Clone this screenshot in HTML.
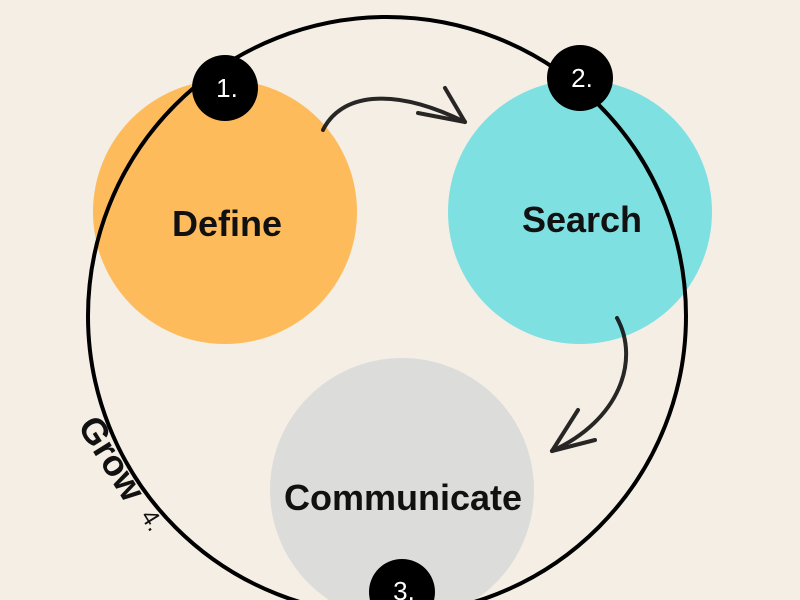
<!DOCTYPE html>
<html><head><style>body{margin:0;background:#f4eee5;}svg{display:block}</style></head><body>
<svg width="800" height="600" viewBox="0 0 800 600" xmlns="http://www.w3.org/2000/svg">
<rect width="800" height="600" fill="#f4eee5"/>
<circle cx="225" cy="212" r="132" fill="#fdbb5b"/>
<circle cx="580" cy="212" r="132" fill="#7fe0e2"/>
<circle cx="402" cy="490" r="132" fill="#dcdcdb"/>
<circle cx="387" cy="316" r="299" fill="none" stroke="#000" stroke-width="4"/>
<circle cx="225" cy="88" r="33" fill="#000"/>
<circle cx="580" cy="78" r="33" fill="#000"/>
<circle cx="402" cy="592" r="33" fill="#000"/>
<g font-family="Liberation Sans, sans-serif" fill="#fff" font-size="26" text-anchor="middle">
<text x="227" y="97">1.</text><text x="582" y="87">2.</text><text x="404" y="600">3.</text>
</g>
<g font-family="Liberation Sans, sans-serif" font-weight="bold" fill="#111" text-anchor="middle">
<text x="227" y="236" font-size="36">Define</text>
<text x="582" y="232" font-size="36">Search</text>
<text x="403" y="510" font-size="36">Communicate</text>
</g>
<text x="0" y="0" font-family="Liberation Sans, sans-serif" font-weight="bold" font-size="36" fill="#111" transform="translate(77,426) rotate(58)">Grow</text>
<text x="0" y="0" font-family="Liberation Sans, sans-serif" font-size="24" fill="#111" transform="translate(140,516) rotate(58)">4.</text>
<g fill="none" stroke="#111" stroke-width="4" stroke-linecap="round" opacity="0.9">
<path d="M323 130 C340 95 390 85 465 122"/>
<path d="M445 88 L465 122 M418 113 L465 122"/>
<path d="M617 318 C640 360 620 420 552 451"/>
<path d="M578 410 L552 451 M595 440 L552 451"/>
</g>
</svg>
</body></html>
